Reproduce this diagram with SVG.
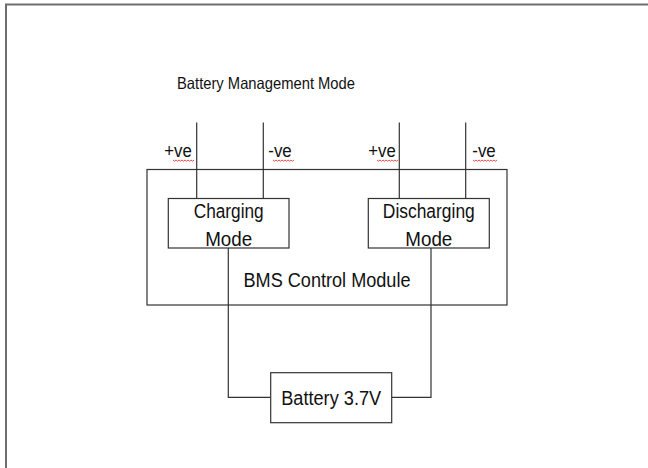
<svg xmlns="http://www.w3.org/2000/svg" width="648" height="468" viewBox="0 0 648 468">
<style>
.box{fill:#fff;stroke:#333;stroke-width:1.2}
.wire{fill:none;stroke:#333;stroke-width:1.2}
.t{font-family:"Liberation Sans",Arial,sans-serif;fill:#111;text-anchor:middle}
.sq{fill:none;stroke:#e33;stroke-width:0.9}
</style>
<rect width="648" height="468" fill="#fff"/>
<path d="M6,468 V4.5 H648" fill="none" stroke="#6e6e6e" stroke-width="2"/>
<text class="t" x="266" y="88.5" font-size="16.5" textLength="178" lengthAdjust="spacingAndGlyphs">Battery Management Mode</text>
<g id="bms">
<rect class="box" x="147" y="169.5" width="360" height="135.5"/>
<text class="t" x="327" y="287" font-size="20" textLength="167" lengthAdjust="spacingAndGlyphs">BMS Control Module</text>
</g>
<g id="connectors">
<path class="wire" d="M196.7,122.5 V198.5 M263.3,122.5 V198.5 M399.3,122.5 V198.5 M465.7,122.5 V198.5"/>
<path class="wire" d="M228.3,248 V397.3 H270.7 M431,248 V397.3 H391.7"/>
</g>
<g id="labels">
<text class="t" x="178" y="157" font-size="18" textLength="27.5" lengthAdjust="spacingAndGlyphs">+ve</text>
<text class="t" x="280" y="157" font-size="18" textLength="23.5" lengthAdjust="spacingAndGlyphs">-ve</text>
<text class="t" x="382" y="157" font-size="18" textLength="27.5" lengthAdjust="spacingAndGlyphs">+ve</text>
<text class="t" x="484" y="157" font-size="18" textLength="23.5" lengthAdjust="spacingAndGlyphs">-ve</text>
<path class="sq" d="M173,160 l1.5,1.2 1.5,-1.2 1.5,1.2 1.5,-1.2 1.5,1.2 1.5,-1.2 1.5,1.2 1.5,-1.2 1.5,1.2 1.5,-1.2 1.5,1.2 1.5,-1.2 1.5,1.2 1.5,-1.2"/>
<path class="sq" d="M273,160 l1.5,1.2 1.5,-1.2 1.5,1.2 1.5,-1.2 1.5,1.2 1.5,-1.2 1.5,1.2 1.5,-1.2 1.5,1.2 1.5,-1.2 1.5,1.2 1.5,-1.2 1.5,1.2 1.5,-1.2"/>
<path class="sq" d="M377,160 l1.5,1.2 1.5,-1.2 1.5,1.2 1.5,-1.2 1.5,1.2 1.5,-1.2 1.5,1.2 1.5,-1.2 1.5,1.2 1.5,-1.2 1.5,1.2 1.5,-1.2 1.5,1.2 1.5,-1.2"/>
<path class="sq" d="M473,160 l1.5,1.2 1.5,-1.2 1.5,1.2 1.5,-1.2 1.5,1.2 1.5,-1.2 1.5,1.2 1.5,-1.2 1.5,1.2 1.5,-1.2 1.5,1.2 1.5,-1.2 1.5,1.2 1.5,-1.2 1.5,1.2 1.5,-1.2"/>
</g>
<g id="charging">
<rect class="box" x="168.3" y="198.5" width="120.7" height="49.5"/>
<text class="t" x="228.7" y="218" font-size="19.5" textLength="70" lengthAdjust="spacingAndGlyphs">Charging</text>
<text class="t" x="228.7" y="245.5" font-size="19.5" textLength="47" lengthAdjust="spacingAndGlyphs">Mode</text>
</g>
<g id="discharging">
<rect class="box" x="368.3" y="198.5" width="121" height="49.5"/>
<text class="t" x="428.8" y="218" font-size="19.5" textLength="92" lengthAdjust="spacingAndGlyphs">Discharging</text>
<text class="t" x="428.8" y="245.5" font-size="19.5" textLength="47" lengthAdjust="spacingAndGlyphs">Mode</text>
</g>
<g id="battery">
<rect class="box" x="270.7" y="372.7" width="121" height="50"/>
<text class="t" x="331.2" y="405" font-size="20" textLength="100" lengthAdjust="spacingAndGlyphs">Battery 3.7V</text>
</g>
</svg>
